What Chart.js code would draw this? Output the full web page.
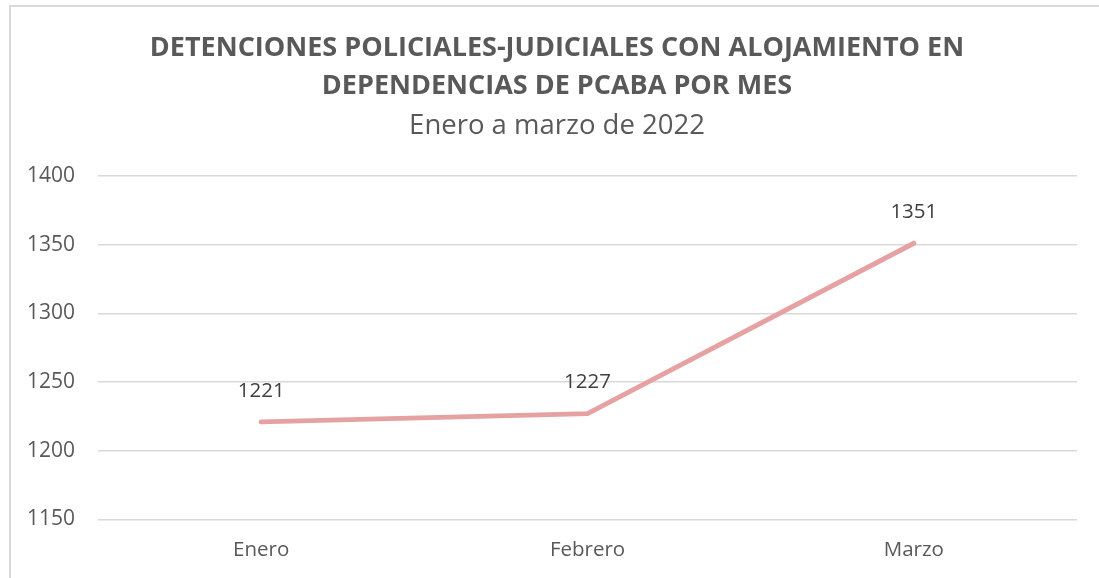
<!DOCTYPE html>
<html>
<head>
<meta charset="utf-8">
<script src="https://cdn.jsdelivr.net/npm/chart.js@4.4.0/dist/chart.umd.min.js"></script>
<style>
  body { margin:0; background:#fff; overflow:hidden; }
  .marco { position:absolute; left:9px; top:5px; width:1200px; height:700px; border:2px solid #d9d9d9; box-sizing:border-box; }
  #grafico { position:absolute; left:0; top:0; }
</style>
</head>
<body>
<div class="marco"></div>
<canvas id="grafico" width="1099" height="578"></canvas>
<script>
// datos
const meses = ['Enero', 'Febrero', 'Marzo'];
const detenciones = [1221, 1227, 1351];
const tituloLineas = ['DETENCIONES POLICIALES-JUDICIALES CON ALOJAMIENTO EN', 'DEPENDENCIAS DE PCABA POR MES'];
const subtitulo = 'Enero a marzo de 2022';

// etiquetas de valor arriba de cada punto
const etiquetas = {
  id: 'etiquetas',
  afterDatasetsDraw(chart) {
    const ctx = chart.ctx;
    const meta = chart.getDatasetMeta(0);
    ctx.save();
    ctx.font = '20.5px "Open Sans"';
    ctx.fillStyle = '#404040';
    ctx.textAlign = 'center';
    ctx.textBaseline = 'middle';
    meta.data.forEach((p, i) => {
      ctx.fillText(detenciones[i], p.x, p.y - 31);
    });
    ctx.restore();
  }
};

// titulo y subtitulo (centrados como en el original, algo a la derecha)
const encabezado = {
  id: 'encabezado',
  afterDraw(chart) {
    const ctx = chart.ctx;
    const cx = 557;
    ctx.save();
    ctx.fillStyle = '#595959';
    ctx.textAlign = 'center';
    ctx.textBaseline = 'middle';
    ctx.font = 'bold 27px "Open Sans"';
    tituloLineas.forEach((t, i) => ctx.fillText(t, cx, 48 + i * 38));
    ctx.font = '27.5px "Open Sans"';
    ctx.fillText(subtitulo, cx, 126);
    ctx.restore();
  }
};

const ctx = document.getElementById('grafico');

new Chart(ctx, {
  type: 'line',
  data: {
    labels: meses,
    datasets: [{
      data: detenciones,
      borderColor: '#e6a2a2',
      borderWidth: 5,
      pointRadius: 0,
      borderCapStyle: 'round',
      tension: 0
    }]
  },
  options: {
    responsive: false,
    animation: false,
    layout: { padding: { left: 4, right: 22, top: 176, bottom: 6 } },
    plugins: {
      legend: { display: false },
      tooltip: { enabled: false },
      title: { display: false },
      subtitle: { display: false }
    },
    scales: {
      x: {
        offset: true,
        grid: { display: false },
        border: { display: false },
        ticks: { color: '#595959', font: { family: 'Open Sans', size: 20.5 }, padding: 10 }
      },
      y: {
        min: 1150,
        max: 1400,
        ticks: {
          stepSize: 50,
          color: '#595959',
          font: { family: 'Open Sans', size: 21 },
          padding: 23,
          callback: (v) => String(v)
        },
        grid: { color: '#d9d9d9', lineWidth: 1.5, drawTicks: false },
        border: { display: false }
      }
    }
  },
  plugins: [etiquetas, encabezado]
});
</script>
</body>
</html>
